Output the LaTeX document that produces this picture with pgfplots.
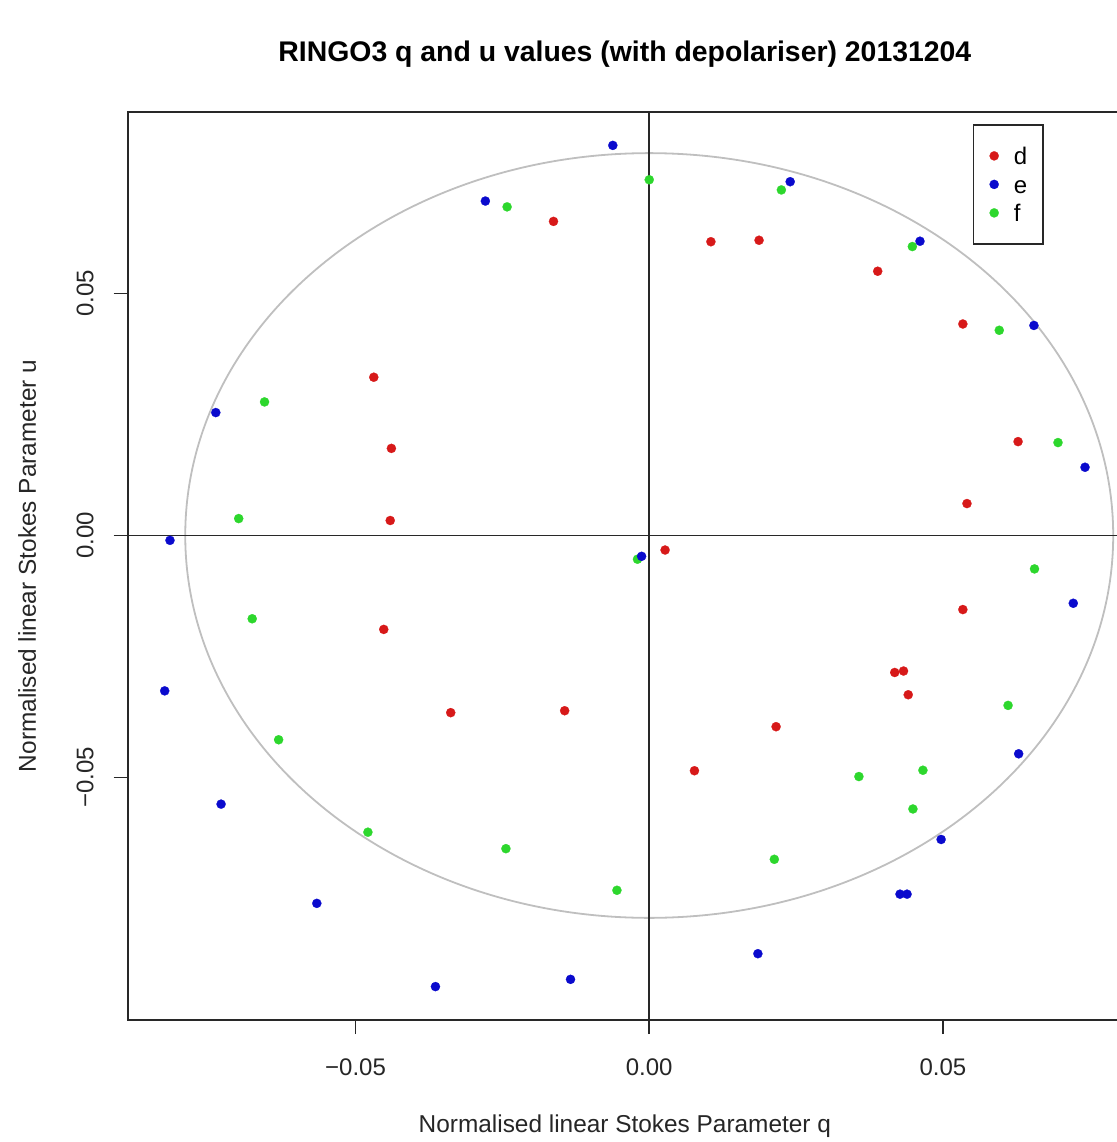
\documentclass[border=0pt]{standalone}
\usepackage{fontspec}
\setmainfont{Liberation Sans}
\usepackage{pgfplots}
\pgfplotsset{compat=1.18}
\usepackage{pgfplotstable}
\definecolor{rred}{RGB}{215,25,25}
\definecolor{rblue}{RGB}{10,10,205}
\definecolor{rgreen}{RGB}{45,215,45}
\definecolor{rframe}{RGB}{40,40,40}

\pgfplotstableread{
q u
-0.0163 0.0649
0.0105 0.0607
0.0187 0.0610
0.0389 0.0546
0.0534 0.0437
0.0628 0.0194
0.0541 0.0066
-0.0469 0.0327
-0.0439 0.0180
-0.0441 0.0031
-0.0452 -0.0194
-0.0338 -0.0366
-0.0144 -0.0362
0.0027 -0.0030
0.0077 -0.0486
0.0216 -0.0395
0.0418 -0.0283
0.0433 -0.0280
0.0441 -0.0329
0.0534 -0.0153
}\dtab

\pgfplotstableread{
q u
-0.0062 0.0806
-0.0279 0.0691
0.0240 0.0731
0.0461 0.0608
0.0655 0.0434
0.0742 0.0141
0.0722 -0.0140
0.0629 -0.0451
0.0497 -0.0628
0.0427 -0.0741
0.0439 -0.0741
0.0185 -0.0864
-0.0134 -0.0917
-0.0364 -0.0932
-0.0566 -0.0760
-0.0729 -0.0555
-0.0825 -0.0321
-0.0816 -0.0010
-0.0738 0.0254
-0.0013 -0.0043
}\etab

\pgfplotstableread{
q u
0.0000 0.0735
-0.0242 0.0679
0.0225 0.0714
0.0448 0.0597
0.0596 0.0424
0.0696 0.0192
0.0656 -0.0069
0.0611 -0.0351
0.0466 -0.0485
0.0449 -0.0565
0.0357 -0.0498
0.0213 -0.0669
-0.0055 -0.0733
-0.0244 -0.0647
-0.0479 -0.0613
-0.0631 -0.0422
-0.0676 -0.0172
-0.0699 0.0035
-0.0655 0.0276
-0.0020 -0.0049
}\ftab

\begin{document}
\begin{tikzpicture}
\begin{axis}[
  scale only axis,
  width=497.15pt, height=454pt,
  xmin=-0.0888, xmax=0.0805,
  ymin=-0.1001, ymax=0.0875,
  scaled ticks=false,
  axis line style={rframe, line width=0.9pt},
  tick style={rframe, line width=0.9pt},
  tick align=outside,
  major tick length=7pt,
  xtick pos=left, ytick pos=left,
  xtick={-0.05,0,0.05},
  xticklabels={−0.05,0.00,0.05},
  ytick={-0.05,0,0.05},
  yticklabels={−0.05,0.00,0.05},
  ticklabel style={font=\fontsize{12}{14}\selectfont, text=black!85},
  xticklabel style={anchor=center, yshift=-16.5pt},
  yticklabel style={xshift=-14.35pt, rotate=90, anchor=center},
  title={RINGO3 q and u values (with depolariser) 20131204},
  title style={font=\fontsize{14.2}{16}\selectfont\bfseries, at={([yshift=19pt]rel axis cs:0.5,1)}, anchor=base},
  xlabel={Normalised linear Stokes Parameter q},
  xlabel style={font=\fontsize{12.2}{14}\selectfont, text=black!85, at={([yshift=-56pt]rel axis cs:0.5,0)}, anchor=base},
  ylabel={Normalised linear Stokes Parameter u},
  ylabel style={font=\fontsize{12.2}{14}\selectfont, text=black!85, at={([xshift=-45.85pt]rel axis cs:0,0.5)}, anchor=base},
  legend cell align=left,
  legend image code/.code={\draw[#1] plot coordinates {(0.6pt,0pt)};},
  legend style={at={([xshift=-39pt,yshift=-6pt]rel axis cs:1,1)}, anchor=north east,
    draw=rframe, line width=0.9pt, inner xsep=8pt, inner ysep=11pt,
    row sep=5.25pt, column sep=7.5pt,
    font=\fontsize{12}{14}\selectfont,
    nodes={inner sep=0pt, text height=9pt, text depth=0pt}},
]
\coordinate (ll) at (rel axis cs:0,0);
\coordinate (ur) at (rel axis cs:1,1);
\draw[black!25, line width=0.9pt] (axis cs:0,0) ellipse [x radius=0.079, y radius=0.079];
\draw[rframe, line width=0.9pt] (axis cs:0,-0.1001) -- (axis cs:0,0.0875);
\draw[rframe, line width=0.9pt] (axis cs:-0.0888,0) -- (axis cs:0.0805,0);

\addplot[only marks, mark=*, color=rred, mark size=2.3pt, mark options={line width=0.1pt}] table[x=q,y=u] {\dtab};
\addlegendentry{d}
\addplot[forget plot, only marks, mark=*, color=rgreen, mark size=2.3pt, mark options={line width=0.1pt}] table[x=q,y=u] {\ftab};
\addplot[only marks, mark=*, color=rblue, mark size=2.3pt, mark options={line width=0.1pt}] table[x=q,y=u] {\etab};
\addlegendentry{e}
\addlegendimage{only marks, mark=*, color=rgreen, mark size=2.3pt, mark options={line width=0.1pt}}
\addlegendentry{f}
\end{axis}
\pgfresetboundingbox
\path ([xshift=-63.85pt,yshift=-61pt]ll) rectangle ([xshift=-3pt,yshift=56pt]ur);
\end{tikzpicture}
\end{document}
